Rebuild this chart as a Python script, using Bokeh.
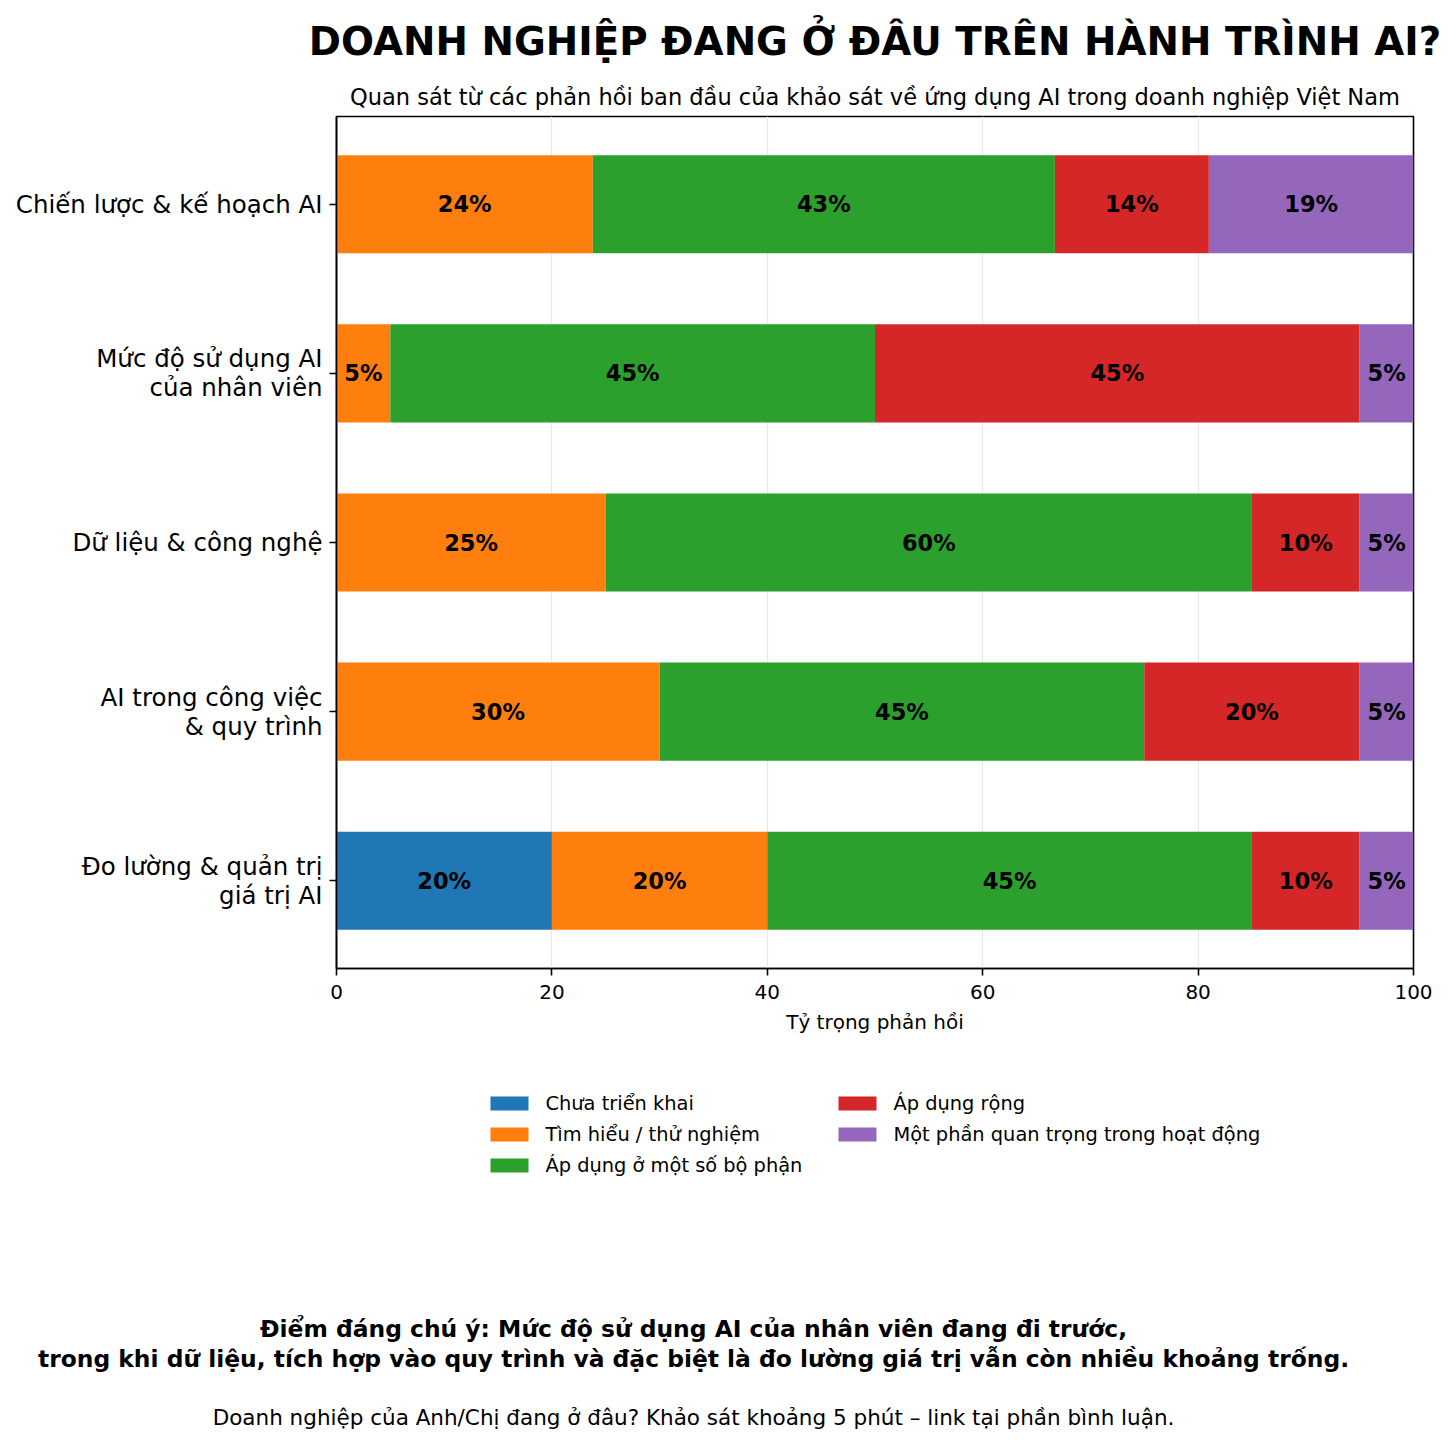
from bokeh.plotting import figure
from bokeh.models import ColumnDataSource, Range1d, FixedTicker
from bokeh.embed import file_html
from bokeh.resources import INLINE
from bokeh.core.properties import value

# ---------------- data ----------------
categories = [
    "Chiến lược & kế hoạch AI",
    "Mức độ sử dụng AI\ncủa nhân viên",
    "Dữ liệu & công nghệ",
    "AI trong công việc\n& quy trình",
    "Đo lường & quản trị\ngiá trị AI",
]
stages = [
    "Chưa triển khai",
    "Tìm hiểu / thử nghiệm",
    "Áp dụng ở một số bộ phận",
    "Áp dụng rộng",
    "Một phần quan trọng trong hoạt động",
]
chua_trien_khai = [0, 0, 0, 0, 20]
tim_hieu = [23.8, 5, 25, 30, 20]
ap_dung_mot_so = [42.9, 45, 60, 45, 45]
ap_dung_rong = [14.3, 45, 10, 20, 10]
mot_phan_quan_trong = [19.0, 5, 5, 5, 5]
series = [chua_trien_khai, tim_hieu, ap_dung_mot_so, ap_dung_rong, mot_phan_quan_trong]
colors = ["#1f77b4", "#ff7f0e", "#2ca02c", "#d62728", "#9467bd"]
x_ticks = [0, 20, 40, 60, 80, 100]

title = "DOANH NGHIỆP ĐANG Ở ĐÂU TRÊN HÀNH TRÌNH AI?"
subtitle = "Quan sát từ các phản hồi ban đầu của khảo sát về ứng dụng AI trong doanh nghiệp Việt Nam"
x_label = "Tỷ trọng phản hồi"
note1 = "Điểm đáng chú ý: Mức độ sử dụng AI của nhân viên đang đi trước,"
note2 = "trong khi dữ liệu, tích hợp vào quy trình và đặc biệt là đo lường giá trị vẫn còn nhiều khoảng trống."
note3 = "Doanh nghiệp của Anh/Chị đang ở đâu? Khảo sát khoảng 5 phút – link tại phần bình luận."

FONT = "DejaVu Sans"
W = 1456
TOP_H = 110          # header strip
MAIN_H = 950         # chart strip
BOT_H = 384          # legend + notes strip
L, R = 336, 43       # frame left / right borders
FT, FB = 6, 92       # frame top / bottom borders inside the chart strip

def blank_fig(h):
    f = figure(width=W, height=h, output_backend="svg", toolbar_location=None,
               x_range=Range1d(0, W), y_range=Range1d(h, 0),
               x_axis_type=None, y_axis_type=None,
               min_border=0, min_border_left=0, min_border_right=0,
               min_border_top=0, min_border_bottom=0)
    f.outline_line_color = None
    f.background_fill_color = "white"
    f.border_fill_color = "white"
    return f

def put_text(f, x, y, txt, size, bold=False, align="center"):
    f.text(x=[x], y=[y], text=[txt], text_align=align, text_baseline="middle",
           text_font=value(FONT), text_font_size=size,
           text_font_style="bold" if bold else "normal", text_color="black")

# ---------------- header ----------------
top = blank_fig(TOP_H)
frame_cx = L + (W - L - R) / 2
put_text(top, frame_cx, 41, title, "38.8px", bold=True)
put_text(top, frame_cx, 96, subtitle, "22.5px")

# ---------------- main chart ----------------
n = len(categories)
ypos = [n - 1 - i for i in range(n)]

p = figure(width=W, height=MAIN_H, output_backend="svg", toolbar_location=None,
           x_range=Range1d(0, 100), y_range=Range1d(-0.519, n - 1 + 0.519),
           min_border_left=L, min_border_right=R, min_border_top=FT, min_border_bottom=FB)
p.background_fill_color = "white"
p.border_fill_color = "white"
p.outline_line_color = "black"
p.outline_line_width = 1.6

left = [0.0] * n
text_x, text_y, text_s = [], [], []
for vals, col, name in zip(series, colors, stages):
    right = [l + v for l, v in zip(left, vals)]
    src = ColumnDataSource(dict(y=ypos, left=left, right=right))
    p.hbar(y="y", left="left", right="right", height=0.58, source=src,
           fill_color=col, line_color=None)
    for yy, l, v in zip(ypos, left, vals):
        if v > 0:
            text_x.append(l + v / 2)
            text_y.append(yy)
            text_s.append(f"{v:.0f}%")
    left = right

p.text(x=text_x, y=text_y, text=text_s, text_align="center", text_baseline="middle",
       text_font=value(FONT), text_font_style="bold", text_font_size="22.5px", text_color="black")

p.xaxis.ticker = FixedTicker(ticks=x_ticks)
p.xaxis.axis_label = x_label
p.xaxis.axis_label_text_font = FONT
p.xaxis.axis_label_text_font_style = "normal"
p.xaxis.axis_label_text_font_size = "20px"
p.xaxis.axis_label_text_color = "black"
p.xaxis.axis_label_standoff = 8
p.xaxis.major_label_text_font = FONT
p.xaxis.major_label_text_font_size = "20px"
p.xaxis.major_label_standoff = 9
p.yaxis.ticker = FixedTicker(ticks=ypos)
p.yaxis.major_label_overrides = {yy: c for yy, c in zip(ypos, categories)}
p.yaxis.major_label_text_font = FONT
p.yaxis.major_label_text_font_size = "24.5px"
p.yaxis.major_label_text_line_height = 1.0
p.yaxis.major_label_standoff = 7
for ax in (p.xaxis, p.yaxis):
    ax.axis_line_color = "black"
    ax.axis_line_width = 1.6
    ax.major_tick_line_color = "black"
    ax.major_tick_line_width = 1.6
    ax.major_tick_out = 7
    ax.major_tick_in = 0
    ax.minor_tick_line_color = None
    ax.major_label_text_color = "black"

p.ygrid.grid_line_color = None
p.xgrid.grid_line_color = "#e8e8e8"
p.xgrid.grid_line_width = 1.2

# ---------------- legend + notes ----------------
bot = blank_fig(BOT_H)
y0 = TOP_H + MAIN_H  # absolute top of this strip
leg_cols_x = [490, 838]
leg_rows_y = [1103, 1134, 1165]
sw_x, sw_y, sw_c = [], [], []
for i, (name, col) in enumerate(zip(stages, colors)):
    cx = leg_cols_x[i // 3]
    cy = leg_rows_y[i % 3] - y0
    sw_x.append(cx + 19)
    sw_y.append(cy)
    sw_c.append(col)
    put_text(bot, cx + 55, cy, name, "19.4px", align="left")
bot.rect(x=sw_x, y=sw_y, width=38, height=14, fill_color=sw_c, line_color=None)

note_cx = 693
put_text(bot, note_cx, 1328 - y0, note1, "23.4px", bold=True)
put_text(bot, note_cx, 1358 - y0, note2, "23.4px", bold=True)
put_text(bot, note_cx, 1417 - y0, note3, "21.5px")

open("out.html", "w").write(file_html([top, p, bot], INLINE))
